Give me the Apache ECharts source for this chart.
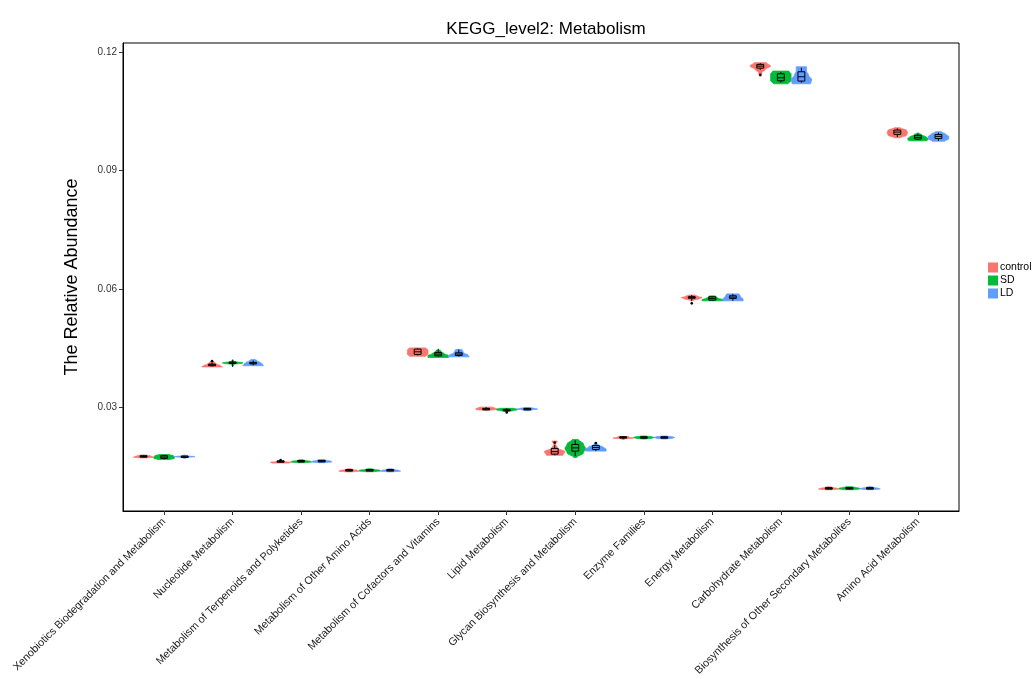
<!DOCTYPE html>
<html><head><meta charset="utf-8">
<script src="https://cdn.jsdelivr.net/npm/echarts@6/dist/echarts.min.js"></script>
<style>html,body{margin:0;padding:0;background:#fff}#c{width:1034px;height:679px}</style>
</head><body><div id="c"></div>
<script>
const categories = ["Xenobiotics Biodegradation and Metabolism","Nucleotide Metabolism","Metabolism of Terpenoids and Polyketides","Metabolism of Other Amino Acids","Metabolism of Cofactors and Vitamins","Lipid Metabolism","Glycan Biosynthesis and Metabolism","Enzyme Families","Energy Metabolism","Carbohydrate Metabolism","Biosynthesis of Other Secondary Metabolites","Amino Acid Metabolism"];
const groups = ["control","SD","LD"];
const colors = ["#F8766D","#00BA38","#619CFF"];
const yTicks = [0.03,0.06,0.09,0.12];
// per category: [control, SD, LD]
const violinMin = [[0.0172,0.0167,0.0173],[0.0402,0.0404,0.0405],[0.0160,0.01615,0.0161],[0.01385,0.0138,0.01385],[0.0429,0.0426,0.04275],[0.0292,0.0289,0.0293],[0.0178,0.01725,0.01885],[0.0218,0.0222,0.0222],[0.0571,0.05695,0.05695],[0.1139,0.11196,0.11196],[0.00925,0.0092,0.0093],[0.09828,0.09752,0.0974]];
const violinMax = [[0.0178,0.0180,0.0176],[0.0415,0.0420,0.0421],[0.0164,0.0164,0.0165],[0.0141,0.0142,0.0141],[0.0450,0.04445,0.04463],[0.0300,0.0297,0.0297],[0.0214,0.0218,0.02095],[0.0225,0.0224,0.0224],[0.0584,0.0582,0.0587],[0.1173,0.11518,0.11627],[0.0096,0.0097,0.0096],[0.10081,0.09947,0.0998]];
const violinShape = [
 [[0.3,1,0.8,0.6,0.2],[0.6,1,1,0.9,0.5],[0.1,0.3,1,0.3,0.1]],
 [[1,0.8,0.5,0.3,0.2],[0.05,0.1,1,0.1,0.05],[1,0.9,0.7,0.4,0.2]],
 [[0.8,1,0.4,0.1,0.05],[0.3,1,0.9,0.4,0.2],[0.3,1,0.9,0.5,0.3]],
 [[0.4,1,0.8,0.4,0.2],[0.4,1,1,0.5,0.2],[0.3,1,0.8,0.4,0.2]],
 [[0.8,1,1,1,0.8],[1,1,0.6,0.3,0.2],[1,0.9,0.5,0.4,0.3]],
 [[0.3,1,1,0.8,0.6],[0.2,0.6,1,1,0.7],[0.2,0.5,1,0.7,0.3]],
 [[0.8,1,0.3,0.1,0.25],[0.15,0.8,1,0.8,0.3],[1,1,0.7,0.2,0.1]],
 [[0.05,0.2,1,0.6,0.5],[0.2,0.8,1,0.8,0.2],[0.2,0.8,1,0.8,0.2]],
 [[0.2,0.7,1,0.6,0.3],[1,1,0.6,0.4,0.3],[1,1,0.8,0.7,0.6]],
 [[0.1,0.15,0.5,1,0.6],[0.7,1,1,1,0.8],[0.9,1,0.7,0.5,0.5]],
 [[0.3,1,0.8,0.4,0.2],[0.5,1,1,0.6,0.3],[0.3,1,0.8,0.4,0.2]],
 [[0.3,0.9,1,0.9,0.3],[0.9,1,0.8,0.4,0.1],[0.6,1,1,0.7,0.3]]
];
const q1 = [[0.01744,0.0170,0.01735],[0.0405,0.0411,0.0410],[0.01615,0.01622,0.01625],[0.01392,0.01393,0.01392],[0.04336,0.0430,0.0431],[0.02935,0.0291,0.02942],[0.01809,0.01885,0.01928],[0.0222,0.02225,0.02225],[0.0576,0.05712,0.05756],[0.11594,0.11272,0.11265],[0.00934,0.00935,0.00935],[0.09914,0.09795,0.0981]];
const median = [[0.0175,0.01735,0.01741],[0.04072,0.04123,0.04115],[0.0162,0.01627,0.0163],[0.01397,0.014,0.01398],[0.04402,0.04344,0.04344],[0.0295,0.02924,0.0295],[0.01872,0.01968,0.01978],[0.02232,0.0223,0.0223],[0.05781,0.05756,0.05789],[0.11645,0.11349,0.11374],[0.0094,0.00942,0.0094],[0.09972,0.09838,0.09863]];
const q3 = [[0.01756,0.0177,0.01748],[0.0409,0.0414,0.0413],[0.01628,0.01632,0.01637],[0.01402,0.01405,0.01404],[0.0447,0.04387,0.04377],[0.02965,0.0294,0.02956],[0.01953,0.02055,0.02029],[0.02245,0.02236,0.02236],[0.0580,0.05796,0.05822],[0.11688,0.1145,0.11501],[0.00946,0.0095,0.00946],[0.10023,0.09889,0.0991]];
const whiskerLo = [[0.0173,0.0168,0.01732],[0.0403,0.0402,0.0406],[0.01605,0.01615,0.01612],[0.01387,0.01382,0.01387],[0.0431,0.0428,0.0428],[0.0292,0.0288,0.0293],[0.0178,0.01758,0.01885],[0.0219,0.0222,0.0222],[0.05685,0.05695,0.05695],[0.1155,0.11222,0.11222],[0.00927,0.00922,0.00932],[0.09845,0.09769,0.0975]];
const whiskerHi = [[0.0177,0.0179,0.01755],[0.0412,0.0419,0.0418],[0.01638,0.0164,0.01648],[0.01408,0.01418,0.01408],[0.0449,0.04478,0.0446],[0.0300,0.0297,0.0297],[0.02037,0.02163,0.02045],[0.02248,0.0224,0.0224],[0.0584,0.0582,0.0587],[0.1172,0.11493,0.11602],[0.00958,0.00968,0.00958],[0.10066,0.09929,0.0996]];
const outliers = [[[],[],[]],[[0.04166],[],[]],[[0.01656],[],[]],[[],[],[]],[[],[],[]],[[],[0.02866],[]],[[0.02105],[],[0.02092]],[[],[],[]],[[0.0563],[],[]],[[0.11425],[],[]],[[],[],[]],[[],[],[]]];

const offsets = [-0.3, 0, 0.3];

function interp(profile, t){
  const n = profile.length - 1;
  const p = t * n;
  const i = Math.min(Math.floor(p), n - 1);
  const f = p - i;
  const s = (1 - Math.cos(Math.PI * f)) / 2;
  return profile[i] * (1 - s) + profile[i + 1] * s;
}

function makeRender(g){
  return function(params, api){
    const ci = api.value(0);
    const xc = ci + offsets[g];
    const children = [];
    const halfV = api.size([0.15, 0])[0];
    const halfB = api.size([0.05, 0])[0];
    const col = colors[g];
    const vmin = violinMin[ci][g], vmax = violinMax[ci][g];
    const prof = violinShape[ci][g];
    let yb = api.coord([xc, vmin])[1], yt = api.coord([xc, vmax])[1];
    const cx = api.coord([xc, vmin])[0];
    if (yb - yt < 3){ const m = (yb + yt) / 2; yb = m + 1.5; yt = m - 1.5; }
    const N = 40;
    const left = [], right = [];
    for (let k = 0; k <= N; k++){
      const t = k / N;
      const y = yb + (yt - yb) * t;
      const w = halfV * interp(prof, t);
      left.push([cx - w, y]);
      right.push([cx + w, y]);
    }
    const pts = left.concat(right.reverse());
    children.push({type:'polygon', shape:{points:pts}, style:{fill:col, stroke:col, lineWidth:0.8}});
    const pLo = api.coord([xc, whiskerLo[ci][g]]), pHi = api.coord([xc, whiskerHi[ci][g]]);
    const pQ1 = api.coord([xc, q1[ci][g]]), pQ3 = api.coord([xc, q3[ci][g]]), pM = api.coord([xc, median[ci][g]]);
    children.push({type:'line', shape:{x1:cx, y1:pLo[1], x2:cx, y2:pQ1[1]}, style:{stroke:'#000', lineWidth:1}});
    children.push({type:'line', shape:{x1:cx, y1:pQ3[1], x2:cx, y2:pHi[1]}, style:{stroke:'#000', lineWidth:1}});
    let bt = pQ3[1], bb = pQ1[1];
    if (bb - bt < 1.5){ const m = (bb + bt)/2; bt = m - 0.75; bb = m + 0.75; }
    children.push({type:'rect', shape:{x:cx - halfB, y:bt, width:2*halfB, height:bb - bt}, style:{fill:col, stroke:'#000', lineWidth:1}});
    children.push({type:'line', shape:{x1:cx - halfB, y1:pM[1], x2:cx + halfB, y2:pM[1]}, style:{stroke:'#000', lineWidth:1}});
    outliers[ci][g].forEach(v => {
      const p = api.coord([xc, v]);
      children.push({type:'circle', shape:{cx:cx, cy:p[1], r:1.3}, style:{fill:'#000'}});
    });
    return {type:'group', children};
  };
}

const series = groups.map((name, g) => ({
  type:'custom', name,
  itemStyle:{color:colors[g]},
  renderItem: makeRender(g),
  encode:{x:0, y:1},
  data: categories.map((c, i) => [i, median[i][g]]),
  clip:false
}));

const chart = echarts.init(document.getElementById('c'), null, {renderer:'canvas'});
chart.setOption({
  animation:false,
  backgroundColor:'#fff',
  textStyle:{fontFamily:'Liberation Sans, Arial, sans-serif'},
  title:{text:'KEGG_level2: Metabolism', left:541, textAlign:'center', top:16,
    textStyle:{fontSize:17, fontWeight:'normal', color:'#000', fontFamily:'Liberation Sans, Arial, sans-serif'}},
  grid:{left:123, right:75, top:43, bottom:168, show:true, borderColor:'#000', borderWidth:1, backgroundColor:'#fff'},
  legend:{orient:'vertical', left:983, top:257, itemWidth:10, itemHeight:10, itemGap:2,
    icon:'rect', data:groups,
    textStyle:{fontSize:10.5, color:'#000', padding:[0,0,0,-3]}},
  xAxis:{type:'value', min:-0.6, max:11.6, splitLine:{show:false},
    axisLine:{show:true, onZero:false, lineStyle:{color:'#000', width:1}},
    axisTick:{show:true, length:4, customValues:categories.map((c,i)=>i), lineStyle:{color:'#333'}},
    axisLabel:{customValues:categories.map((c,i)=>i), rotate:45, fontSize:10.8, color:'#1a1a1a', margin:9,
      formatter:(v)=>categories[Math.round(v)]}},
  yAxis:{type:'value', min:0.00367, max:0.1223, splitLine:{show:false},
    name:'The Relative Abundance', nameLocation:'middle', nameGap:42,
    nameTextStyle:{fontSize:18, color:'#000'},
    axisLine:{show:true, onZero:false, lineStyle:{color:'#000', width:1}},
    axisTick:{show:true, length:4, customValues:yTicks, lineStyle:{color:'#333'}},
    axisLabel:{customValues:yTicks, fontSize:10, color:'#333', margin:6, formatter:(v)=>v.toFixed(2)}},
  series
});
</script></body></html>
